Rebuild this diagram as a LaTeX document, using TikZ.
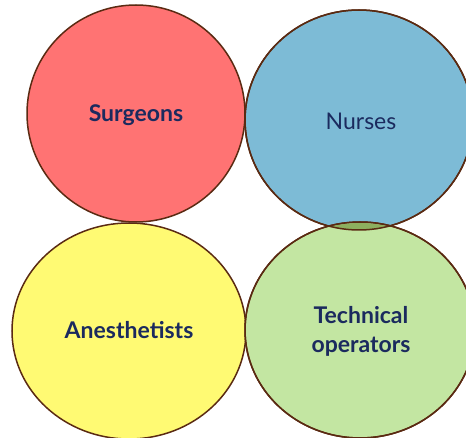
\documentclass[tikz,border=0pt]{standalone}
\usepackage{fontspec}
\setmainfont{Lato}
\usetikzlibrary{shapes.geometric}
\definecolor{cred}{HTML}{FF7373}
\definecolor{cblue}{HTML}{7DBBD6}
\definecolor{cyellow}{HTML}{FFFA73}
\definecolor{cgreen}{HTML}{C3E6A2}
\definecolor{colive}{HTML}{8DAF5E}
\definecolor{cedge}{HTML}{5A2A12}
\definecolor{ctext}{HTML}{1B2A5E}
\tikzset{
  blob/.style={ellipse, draw=cedge, line width=1.5pt, inner sep=0pt},
  lbl/.style={text=ctext, align=center, font=\fontsize{23}{29}\selectfont\bfseries},
}
\begin{document}
\begin{tikzpicture}[x=1pt,y=-1pt]
\useasboundingbox (0,0) rectangle (466,438);
\node[blob, fill=cred, minimum width=218pt, minimum height=217pt] (s) at (136,113.5) {};
\node[blob, fill=cblue, minimum width=228pt, minimum height=220pt] (n) at (359,120) {};
\node[blob, fill=cyellow, minimum width=234pt, minimum height=216pt] (a) at (129,331) {};
\node[blob, fill=cgreen, minimum width=230pt, minimum height=216pt] (t) at (360,330) {};
\begin{scope}
  \clip (n.center) ellipse [x radius=114pt, y radius=110pt];
  \fill[colive] (t.center) ellipse [x radius=114pt, y radius=107pt];
\end{scope}
\draw[cedge, line width=1.5pt] (n.center) ellipse [x radius=114pt, y radius=110pt];
\draw[cedge, line width=1.5pt] (t.center) ellipse [x radius=115pt, y radius=108pt];
\node[lbl] (ls) at (136,115) {Surgeons};
\node[lbl, font=\fontsize{23}{29}\selectfont] (ln) at (361,121) {Nurses};
\node[lbl] (la) at (129,330) {Anesthetists};
\node[lbl] (lt) at (361,331) {Technical\\operators};
\end{tikzpicture}
\end{document}
